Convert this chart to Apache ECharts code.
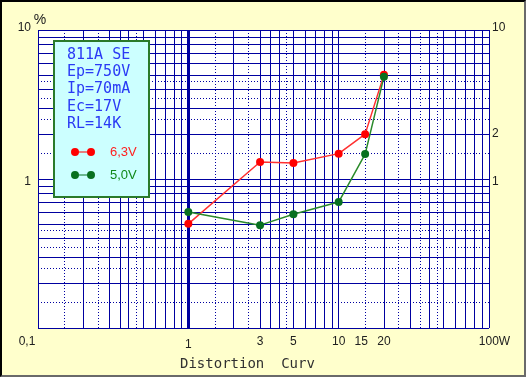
<!DOCTYPE html>
<html>
<head>
<meta charset="utf-8">
<script src="https://cdn.jsdelivr.net/npm/echarts@6/dist/echarts.min.js"></script>
<style>
html, body { margin: 0; padding: 0; }
#wrap { position: relative; width: 526px; height: 377px; }
#chart { width: 526px; height: 377px; }
#frame {
  position: absolute; left: 0; top: 0; width: 526px; height: 377px;
  box-sizing: border-box; border-style: solid; border-width: 2px;
  border-color: #000 #6a6a6a #6a6a6a #000; pointer-events: none;
}
</style>
</head>
<body>
<div id="wrap"><div id="chart"></div><div id="frame"></div></div>
<script>
// output power (W) and distortion (%)
const power = [1, 3, 5, 10, 15, 20]
const dist63 = [0.5, 1.3, 1.28, 1.48, 2.0, 5.0]
const dist50 = [0.6, 0.49, 0.58, 0.7, 1.47, 4.85]

const xLabels = [0.1, 1, 3, 5, 10, 15, 20, 100]
const yLabelsLeft = [1, 10]
const yLabelsRight = [1, 2, 10]
const notes = ['811A SE', 'Ep=750V', 'Ip=70mA', 'Ec=17V', 'RL=14K']

// grid lines
const xSolid = [0.1, 0.2, 0.3, 0.35, 0.4, 0.5, 0.6, 0.7, 0.8, 0.9,
  2, 3, 3.5, 4, 5, 6, 7, 8, 9, 10, 20, 30, 40, 50, 60, 70, 80, 90, 100]
const xDotted = [0.15, 0.25, 0.45, 1.5, 2.5, 4.5, 15, 25, 35, 45]
const xThick = [1]
const ySolid = [0.1, 0.2, 0.3, 0.4, 0.5, 0.6, 0.7, 0.8, 0.9,
  1, 2, 3, 4, 5, 6, 7, 8, 9, 10]
const yDotted = [0.15, 0.25, 0.35, 0.45, 1.5, 2.5, 3.5, 4.5]

const gridBlue = '#0000a0'
const fix = v => Math.round(v * 10000) / 10000
const labelFont = { fontFamily: '"Liberation Sans", Arial, sans-serif', fontSize: 12, color: '#202020' }

const gridAxis = (range, ticks, lineStyle) => Object.assign({
  type: 'log', logBase: 10,
  axisLine: { show: false },
  axisLabel: { show: false },
  axisTick: { show: false, customValues: ticks },
  splitLine: { show: true, lineStyle: Object.assign({ color: gridBlue }, lineStyle) }
}, range)

const xRange = { min: 0.1, max: 100 }
const yRange = { min: 0.1, max: 10 }

const yLabelFmt = v => {
  const r = fix(v)
  if (r === 10) return '{up|10}'
  if (r === 1) return '{dn|1}'
  return String(r)
}
const yRich = { up: { padding: [0, 0, 5, 0] }, dn: { padding: [5, 0, 0, 0] } }

const chart = echarts.init(document.getElementById('chart'))

chart.setOption({
  backgroundColor: '#ffffcc',
  animation: false,
  grid: { left: 38, right: 37, top: 30, bottom: 49, show: true, backgroundColor: '#ffffff', borderWidth: 0 },
  title: {
    text: 'Distortion  Curv',
    left: 180, top: 357, padding: 0,
    textStyle: { fontFamily: '"DejaVu Sans Mono", monospace', fontSize: 14, fontWeight: 'normal', color: '#303030' }
  },
  legend: {
    orient: 'vertical',
    left: 66, top: 139,
    itemWidth: 24, itemHeight: 8, itemGap: 7,
    z: 20,
    icon: 'path://M0,4A4,4,0,1,1,8,4A4,4,0,1,1,0,4ZM4,3.4H20V4.6H4ZM16,4A4,4,0,1,1,24,4A4,4,0,1,1,16,4Z',
    textStyle: { fontFamily: '"Liberation Sans", Arial, sans-serif', fontSize: 13, lineHeight: 16, padding: [0, 0, 0, 10] },
    data: [
      { name: '6,3V', textStyle: { color: '#ff2020' } },
      { name: '5,0V', textStyle: { color: '#108818' } }
    ]
  },
  xAxis: [
    Object.assign(gridAxis(xRange, xSolid, { type: 'solid', width: 1 }), {
      position: 'bottom',
      axisLabel: Object.assign({
        show: true,
        customValues: xLabels,
        margin: 8,
        formatter: v => {
          const r = fix(v)
          if (r === 0.1) return '{l|0,1}'
          if (r === 1) return '{d|1}'
          if (r === 15) return '{f|15}'
          if (r === 100) return '{r|100W}'
          return String(r)
        },
        rich: { l: { padding: [0, 22, 0, 0] }, d: { padding: [3, 0, 0, 0] }, f: { padding: [0, 8, 0, 0] }, r: { padding: [0, 0, 0, 11] } }
      }, labelFont)
    }),
    gridAxis(xRange, xDotted, { type: [1, 2], width: 1 }),
    gridAxis(xRange, xThick, { type: 'solid', width: 3 })
  ],
  yAxis: [
    Object.assign(gridAxis(yRange, ySolid, { type: 'solid', width: 1 }), {
      position: 'left',
      name: '%', nameLocation: 'end', nameGap: 3, nameMoveOverlap: false,
      nameTextStyle: { fontFamily: '"Liberation Sans", Arial, sans-serif', fontSize: 14, color: '#202020', padding: [0, 0, 0, 4] },
      axisLabel: Object.assign({ show: true, customValues: yLabelsLeft, margin: 7, formatter: yLabelFmt, rich: yRich }, labelFont)
    }),
    Object.assign(gridAxis(yRange, [], { type: 'solid', width: 1 }), {
      position: 'right',
      splitLine: { show: false },
      axisLabel: Object.assign({ show: true, customValues: yLabelsRight, margin: 3, formatter: yLabelFmt, rich: yRich }, labelFont)
    }),
    gridAxis(yRange, yDotted, { type: [1, 2], width: 1 })
  ],
  graphic: [
    {
      type: 'rect', z: 10,
      shape: { x: 54, y: 41, width: 95, height: 156 },
      style: { fill: '#ccffff', stroke: '#2a7a2a', lineWidth: 2 }
    }
  ].concat(notes.map((t, i) => ({
    type: 'text', z: 11,
    x: 67, y: 55 + i * 17.3,
    style: { text: t, font: '15px "DejaVu Sans Mono", monospace', fill: '#2a3af5', verticalAlign: 'middle' }
  }))),
  series: [
    {
      name: '6,3V', type: 'line', z: 3,
      xAxisIndex: 0, yAxisIndex: 0,
      data: power.map((p, i) => [p, dist63[i]]),
      symbol: 'circle', symbolSize: 8,
      itemStyle: { color: '#ff0000' },
      lineStyle: { color: '#ff3030', width: 1.5 }
    },
    {
      name: '5,0V', type: 'line', z: 3,
      xAxisIndex: 0, yAxisIndex: 0,
      data: power.map((p, i) => [p, dist50[i]]),
      symbol: 'circle', symbolSize: 8,
      itemStyle: { color: '#087020' },
      lineStyle: { color: '#2a8a2a', width: 1.5 }
    }
  ]
})
</script>
</body>
</html>
